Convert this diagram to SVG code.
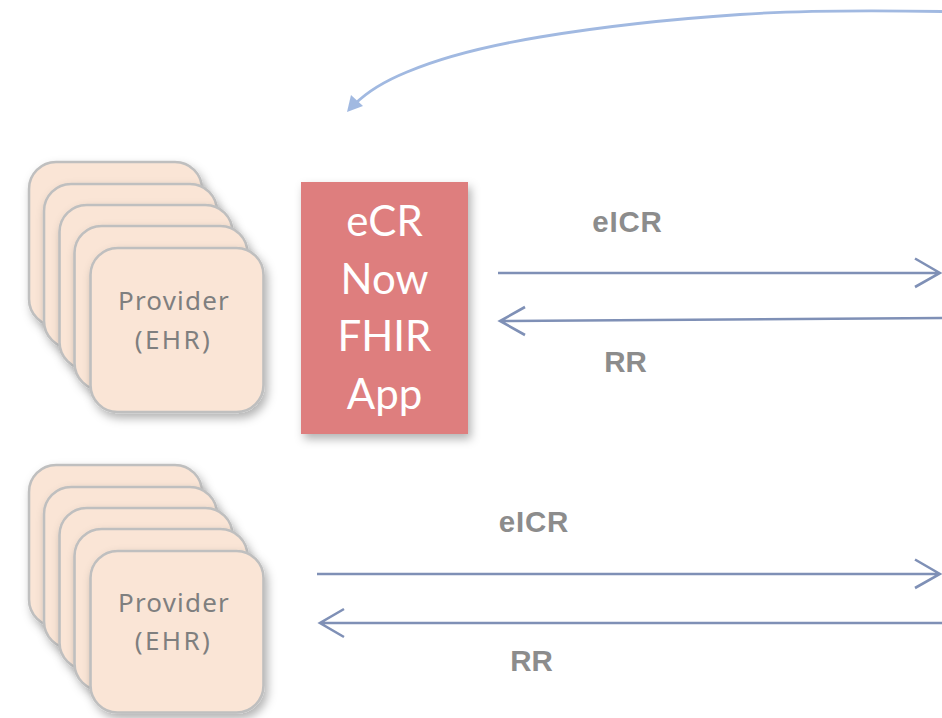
<svg xmlns="http://www.w3.org/2000/svg" width="942" height="718" viewBox="0 0 942 718">
<style>
.card{fill:#fae5d6;stroke:#bfbfbf;stroke-width:2.6;filter:url(#sh)}
.ptext{font-family:"Noto Sans","DejaVu Sans",sans-serif;font-size:26px;fill:#7f7f7f;text-anchor:middle;letter-spacing:1.2px}
.ehr{letter-spacing:2.4px}
.app{font-family:Lato,"Open Sans",sans-serif;font-size:42px;fill:#fff;text-anchor:middle}
.lab{font-family:"Liberation Sans",Arial,sans-serif;font-size:29.500px;font-weight:bold;fill:#8c8c8c;text-anchor:middle}
.sp{letter-spacing:0.800px}
.conn{fill:none;stroke:#7f90b6;stroke-width:2.6}
</style>
<defs>
<filter id="sh" x="-15%" y="-15%" width="135%" height="135%"><feDropShadow dx="3" dy="5" stdDeviation="5" flood-color="#000" flood-opacity="0.3"/></filter>
<rect id="c" class="card" width="173" height="164" rx="27"/>
<rect id="d" class="card" width="173" height="161.500" rx="27"/>
</defs>
<g id="connectors">
<path d="M942 11.500C850 10 790 11 740 14.500C680 18.500 600 27 540 37C480 47 440 58 407 72C385 81 368 91 355 104" fill="none" stroke="#a1b9e1" stroke-width="2.800"/>
<path d="M347 112L351 95L363 106Z" fill="#a1b9e1"/>
<path class="conn" d="M498 273H940M915 258.500L940 273L915 287"/>
<path class="conn" d="M942 318L500 321M525 307L500 321L525 335"/>
<path class="conn" d="M317 574H940M915 559.500L940 574L915 588"/>
<path class="conn" d="M942 623H320M344 609L320 623L344 637"/>
</g>
<g id="provider-stack-1">
<use href="#c" x="29" y="162"/><use href="#c" x="44" y="184"/><use href="#c" x="59.500" y="205"/><use href="#c" x="74.500" y="226"/><use href="#c" x="90.500" y="248"/>
<text class="ptext" x="174" y="310">Provider</text><text class="ptext ehr" x="173.500" y="349">(EHR)</text>
</g>
<g id="provider-stack-2">
<use href="#d" x="29" y="465"/><use href="#d" x="44" y="487"/><use href="#d" x="59.500" y="508"/><use href="#d" x="74.500" y="529"/><use href="#d" x="90.500" y="551"/>
<text class="ptext" x="174" y="612">Provider</text><text class="ptext ehr" x="173.500" y="650">(EHR)</text>
</g>
<g id="ecr-now-app">
<rect x="301" y="182" width="167" height="252" fill="#de7e7e" filter="url(#sh)"/>
<text class="app" x="384.500" y="236">eCR</text><text class="app" x="384.500" y="294">Now</text><text class="app" x="384.500" y="351">FHIR</text><text class="app" x="384.500" y="409">App</text>
</g>
<g id="labels">
<text class="lab sp" x="627.500" y="232">eICR</text><text class="lab" x="625.500" y="372">RR</text>
<text class="lab sp" x="534" y="532">eICR</text><text class="lab" x="531.500" y="671">RR</text>
</g>
</svg>
